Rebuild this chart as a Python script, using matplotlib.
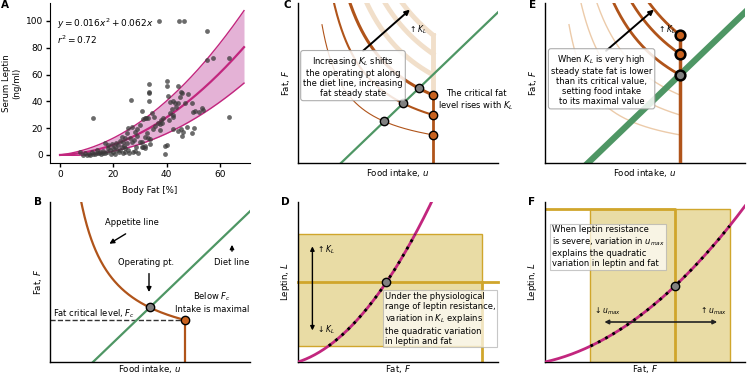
import numpy as np
import matplotlib.pyplot as plt
from matplotlib.patches import Rectangle

# ---- panel A: body fat vs serum leptin ----
fat_pct = [7.5, 8.75, 10, 11.25, 12.5, 13.75, 15, 16.25, 17.5, 18.75, 20, 21.25,
           16.9, 18.1, 19.4, 20.6, 21.9, 23.1, 24.4, 25.6, 27.5, 29.4, 30.9, 31.9,
           30, 22.5, 23.75, 25, 26.9, 27.9, 23.1, 24.4, 26.25, 25, 25.6, 27.1,
           28.75, 28.1, 31.9, 33.1, 30.6, 26.6, 12.5,
           9.5, 11, 12, 13, 14.5, 15.5, 17, 19, 20.5, 22, 23.5, 24.5, 26, 28,
           14, 16, 18, 20, 21, 22.5, 24,
           33.5, 33.5, 33.5, 33.5, 40.2, 40.2, 44.4, 45.2, 48.1, 34.4, 35.4, 31.2,
           32.2, 37.7, 38.7, 36.9, 37.5, 35.7, 34.8, 32.5, 31.9, 33.1, 30.6, 31.2,
           31.9, 33.75, 33.75, 39.4, 40.2, 39.4, 40.6, 41.2, 42.2, 43.1, 43.5,
           44.1, 45, 45.6, 46.9, 49.4, 50, 50.6, 52.25, 53.1, 53.75, 41.2, 41.9,
           42.5, 42.2, 40.9, 38.1, 37.5, 42.25, 44.4, 45.25, 46.25, 45.6, 47.5,
           50.25, 49.4, 63.5,
           37.3, 44.5, 46.4, 55.3, 55.3, 57.3, 63.3, 29, 30, 28.5]
leptin = [2.5, 0, 0, 0, 0.5, 1.2, 2.5, 1.2, 2.5, 3.7, 2.5, 3.7,
          8.7, 7.5, 8, 6.2, 7.5, 6.2, 5, 3.7, 2.5, 1.2, 6.2, 7,
          10, 10.5, 10, 8.7, 9.5, 11.2, 13.7, 12.4, 12.9, 16.2, 20.4, 21.1,
          19.4, 16.9, 27.4, 27.4, 33, 41, 27.4,
          1.5, 1, 2, 0.5, 1.5, 0.5, 1.5, 1, 1, 2, 1.5, 2.5, 1.5, 3,
          4, 3, 5, 5, 9, 4, 7,
          53, 47.2, 46, 40.3, 55.5, 51.5, 51.5, 47.3, 45.5, 31, 28.6, 26.6,
          27.3, 26.1, 27.4, 24.1, 23.1, 21.9, 19.2, 16.2, 13.2, 12.7, 9.9, 5.7,
          5, 11.7, 8.2, 6.7, 7.7, 0.5, 44, 39.8, 40.2, 39, 36,
          39, 43, 46, 39, 38.6, 32.3, 33, 32.3, 34.8, 33.5, 31, 34,
          29.8, 28, 26, 24, 18.6, 19.2, 18.2, 19.2, 17.4, 14.2, 21.1,
          20.4, 16.7, 28.1,
          100, 100, 100, 92.8, 70.5, 72, 72.7, 14, 22, 6]
fit_coef = [0.016, 0.062]        # y = a x^2 + b x
band_hi_coef = [0.019, 0.25]
band_lo_coef = [0.013, -0.12]
fit_xmax = 69

# ---- schematic panels (B, C, E) ----
u_max = 0.675
diet_slope, diet_u0 = 1.2, 0.215
appetite_k, appetite_c = 0.15, 0.04     # F = s * (k/u + c)
kl_low = [0.67, 1.145, 1.62]
kl_high = [2.1, 2.6, 3.05]
kl_low_lw = [0.8, 1.5, 2.2]

# ---- leptin vs fat panels (D, F) ----
lep_D = [1.636, 0.405]
lep_F = [0.697, 0.278]
D_box = [0.918, 0.10, 0.80]     # fat right edge, leptin low, leptin high
D_Lop = 0.5
F_box = [0.225, 0.925, 0.954]   # fat low, fat high, leptin top
F_Fop = 0.65

BROWN = "#b0541a"
ORANGE = "#c8621f"
GREEN = "#4e9664"
MAGENTA = "#c2267e"
PINK = "#e2aad2"
TAN = "#e9dca5"
GOLD = "#d0a62c"
BEIGE = "#f1dfca"

plt.rcParams["font.family"] = "DejaVu Sans"
plt.rcParams["mathtext.fontset"] = "dejavusans"
LAB = 6.2
TXT = 6.0

fig = plt.figure(figsize=(7.49, 3.75), dpi=100)
W, H = 749.0, 375.0


def add(px_left, px_bottom):
    return fig.add_axes([px_left / W, (H - px_bottom) / H, 200 / W, 160 / H])


def schematic(ax, xl, yl, xpad=3):
    ax.set_xlim(0, 1)
    ax.set_ylim(0, 1)
    for s in ["top", "right"]:
        ax.spines[s].set_visible(False)
    for s in ["left", "bottom"]:
        ax.spines[s].set_linewidth(1.0)
    ax.set_xticks([])
    ax.set_yticks([])
    ax.set_xlabel(xl, fontsize=LAB, labelpad=xpad)
    ax.set_ylabel(yl, fontsize=LAB, labelpad=4)


def appetite(u, s):
    return s * (appetite_k / u + appetite_c)


def diet(u):
    return diet_slope * (u - diet_u0)


def op_point(s):
    r = np.roots([diet_slope, -(diet_slope * diet_u0 + appetite_c * s), -appetite_k * s])
    u = r[r > 0].max()
    return u, diet(u)


box = dict(boxstyle="round,pad=0.3", facecolor="white", edgecolor="#a0a0a0", alpha=0.85, lw=0.8)

# ---------------- A ----------------
axA = add(50, 163)
xx = np.linspace(0, fit_xmax, 200)
yc = fit_coef[0] * xx**2 + fit_coef[1] * xx
yh = band_hi_coef[0] * xx**2 + band_hi_coef[1] * xx
yl = band_lo_coef[0] * xx**2 + band_lo_coef[1] * xx
axA.fill_between(xx, yl, yh, color=PINK, alpha=0.9, lw=0)
axA.plot(xx, yh, color=MAGENTA, lw=1.0)
axA.plot(xx, yl, color=MAGENTA, lw=1.0)
axA.plot(xx, yc, color=MAGENTA, lw=1.6)
axA.scatter(fat_pct, leptin, s=12, color="#3a3a3a", alpha=0.75, lw=0, zorder=3)
axA.set_xlim(-3.75, 71.25)
axA.set_ylim(-6, 113.4)
axA.set_xticks([0, 20, 40, 60])
axA.set_yticks([0, 20, 40, 60, 80, 100])
axA.tick_params(labelsize=6.5, length=3, width=1, pad=2)
for s in ["top", "right"]:
    axA.spines[s].set_visible(False)
axA.set_xlabel("Body Fat [%]", fontsize=LAB, labelpad=5)
axA.set_ylabel("Serum Leptin\n(ng/ml)", fontsize=LAB, labelpad=3)
axA.text(-1.2, 98, r"$y = 0.016x^2 + 0.062x$", fontsize=6.5, va="center")
axA.text(-1.2, 86, r"$r^2 = 0.72$", fontsize=6.5, va="center")

# ---------------- B ----------------
axB = add(50, 362)
schematic(axB, "Food intake, $u$", "Fat, $F$", xpad=1)
uu = np.linspace(0.12, u_max, 200)
Fc = appetite(u_max, 1.0)
axB.plot([0, u_max], [Fc, Fc], color="#333333", ls="--", lw=1.0)
g = np.linspace(diet_u0, 1.02, 10)
axB.plot(g, diet(g), color=GREEN, lw=1.6)
axB.plot(uu, appetite(uu, 1.0), color=BROWN, lw=1.6)
axB.plot([u_max, u_max], [0, Fc], color=BROWN, lw=1.6)
uo, fo = op_point(1.0)
axB.plot(uo, fo, "o", ms=6, mfc="#808080", mec="k", mew=1)
axB.plot(u_max, Fc, "o", ms=6, mfc=ORANGE, mec="k", mew=1)
axB.text(0.41, 0.87, "Appetite line", fontsize=TXT, ha="center", va="center")
axB.annotate("", xy=(0.285, 0.73), xytext=(0.39, 0.81),
             arrowprops=dict(arrowstyle="-|>", color="k", lw=1, mutation_scale=7))
axB.text(0.48, 0.62, "Operating pt.", fontsize=TXT, ha="center", va="center")
axB.annotate("", xy=(0.495, 0.42), xytext=(0.495, 0.57),
             arrowprops=dict(arrowstyle="-|>", color="k", lw=1, mutation_scale=7))
axB.text(0.91, 0.62, "Diet line", fontsize=TXT, ha="center", va="center")
axB.annotate("", xy=(0.91, 0.75), xytext=(0.91, 0.675),
             arrowprops=dict(arrowstyle="-|>", color="k", lw=1, mutation_scale=6))
axB.text(0.81, 0.375, "Below $F_c$\nIntake is maximal", fontsize=TXT, ha="center",
         va="center", linespacing=1.3)
axB.text(0.017, 0.30, "Fat critical level, $F_c$", fontsize=TXT, va="center")

# ---------------- C ----------------
axC = add(298, 163)
schematic(axC, "Food intake, $u$", "Fat, $F$")
axC.plot(g, diet(g), color=GREEN, lw=1.6, zorder=2)
for s in kl_high:
    axC.plot(uu, appetite(uu, s), color=BEIGE, lw=3.5, zorder=1)
axC.plot([u_max, u_max], [appetite(u_max, kl_low[-1]), appetite(u_max, kl_high[-1])],
         color=BEIGE, lw=3.5, zorder=1)
for s, lw in zip(kl_low, kl_low_lw):
    axC.plot(uu, appetite(uu, s), color=BROWN, lw=lw, zorder=2)
axC.plot([u_max, u_max], [0, appetite(u_max, kl_low[-1])], color=BROWN, lw=2, zorder=2)
for s in kl_low:
    uo, fo = op_point(s)
    axC.plot(uo, fo, "o", ms=6, mfc="#808080", mec="k", mew=1, zorder=4)
    axC.plot(u_max, appetite(u_max, s), "o", ms=6, mfc=ORANGE, mec="k", mew=1, zorder=4)
axC.annotate("", xy=(0.57, 0.97), xytext=(0.315, 0.69),
             arrowprops=dict(arrowstyle="-|>", color="k", lw=1.4, mutation_scale=7), zorder=5)
axC.text(0.60, 0.835, r"$\uparrow K_L$", fontsize=5.5, ha="center", va="center")
axC.text(0.275, 0.54, "Increasing $K_L$ shifts\nthe operating pt along\nthe diet line, increasing\nfat steady state",
         fontsize=TXT, ha="center", va="center", bbox=box, zorder=6, linespacing=1.15)
axC.text(0.89, 0.39, "The critical fat\nlevel rises with $K_L$", fontsize=TXT, ha="center",
         va="center", clip_on=False, linespacing=1.2)

# ---------------- D ----------------
axD = add(298, 362)
schematic(axD, "Fat, $F$", "Leptin, $L$", xpad=1)
axD.add_patch(Rectangle((0, D_box[1]), D_box[0], D_box[2] - D_box[1], facecolor=TAN,
                        edgecolor=GOLD, lw=1.0, zorder=1))
axD.plot([0, 1.0], [D_Lop, D_Lop], color=GOLD, lw=2, zorder=2, clip_on=False)
axD.plot([D_box[0], D_box[0]], [0, D_Lop], color=GOLD, lw=2, zorder=2)
ff = np.linspace(0, 1, 300)
LD = lep_D[0] * ff**2 + lep_D[1] * ff
axD.plot(ff, LD, color=MAGENTA, lw=2, zorder=3)
m = (LD >= D_box[1]) & (LD <= D_box[2])
axD.plot(ff[m], LD[m], color="k", lw=2, ls=(0, (1, 2)), zorder=4)
fD = ff[np.argmin(abs(LD - D_Lop))]
axD.plot(fD, D_Lop, "o", ms=6, mfc="#808080", mec="k", mew=1, zorder=5)
axD.annotate("", xy=(0.072, 0.74), xytext=(0.072, 0.18),
             arrowprops=dict(arrowstyle="<|-|>", color="k", lw=1, mutation_scale=6))
axD.text(0.09, 0.70, r"$\uparrow K_L$", fontsize=5.5, va="center")
axD.text(0.09, 0.20, r"$\downarrow K_L$", fontsize=5.5, va="center")
axD.text(0.435, 0.27, "Under the physiological\nrange of leptin resistance,\nvariation in $K_L$ explains\nthe quadratic variation\nin leptin and fat",
         fontsize=TXT, ha="left", va="center", linespacing=1.15, clip_on=False, zorder=6,
         bbox=dict(boxstyle="square,pad=0.2", facecolor="white", edgecolor="#b0b0b0", alpha=0.7, lw=0.8))

# ---------------- E ----------------
axE = add(545, 163)
schematic(axE, "Food intake, $u$", "Fat, $F$")
for s in kl_low:
    axE.plot(uu, appetite(uu, s), color="#eccbaa", lw=1.0, zorder=1)
axE.plot(g, diet(g), color=GREEN, lw=4.5, zorder=2)
for s in kl_high:
    axE.plot(uu, appetite(uu, s), color=BROWN, lw=2, zorder=3)
axE.plot([u_max, u_max], [0, appetite(u_max, kl_high[-1])], color=BROWN, lw=2.5, zorder=3)
axE.plot(u_max, diet(u_max), "o", ms=7, mfc="#808080", mec="k", mew=1.8, zorder=4)
for s in kl_high[1:]:
    axE.plot(u_max, appetite(u_max, s), "o", ms=7, mfc=ORANGE, mec="k", mew=1.8, zorder=4)
axE.annotate("", xy=(0.555, 0.97), xytext=(0.295, 0.69),
             arrowprops=dict(arrowstyle="-|>", color="k", lw=1.4, mutation_scale=7), zorder=5)
axE.text(0.61, 0.835, r"$\uparrow K_L$", fontsize=5.5, ha="center", va="center")
axE.text(0.283, 0.52, "When $K_L$ is very high\nsteady state fat is lower\nthan its critical value,\nsetting food intake\nto its maximal value",
         fontsize=TXT, ha="center", va="center", bbox=box, zorder=6, linespacing=1.15)

# ---------------- F ----------------
axF = add(545, 362)
schematic(axF, "Fat, $F$", "Leptin, $L$", xpad=1)
axF.add_patch(Rectangle((F_box[0], 0), F_box[1] - F_box[0], F_box[2], facecolor=TAN,
                        edgecolor=GOLD, lw=1.0, zorder=1))
axF.plot([0, F_Fop, F_Fop], [F_box[2], F_box[2], 0], color=GOLD, lw=2, zorder=2)
LF = lep_F[0] * ff**2 + lep_F[1] * ff
axF.plot(ff, LF, color=MAGENTA, lw=2, zorder=3)
m = (ff >= F_box[0]) & (ff <= F_box[1])
axF.plot(ff[m], LF[m], color="k", lw=2, ls=(0, (1, 2)), zorder=4)
axF.plot(F_Fop, lep_F[0] * F_Fop**2 + lep_F[1] * F_Fop, "o", ms=6, mfc="#808080", mec="k",
         mew=1, zorder=5)
axF.annotate("", xy=(0.875, 0.25), xytext=(0.283, 0.25),
             arrowprops=dict(arrowstyle="<|-|>", color="#222222", lw=1.2, mutation_scale=6))
axF.text(0.31, 0.32, r"$\downarrow u_{max}$", fontsize=5.5, ha="center", va="center")
axF.text(0.84, 0.32, r"$\uparrow u_{max}$", fontsize=5.5, ha="center", va="center")
axF.text(0.033, 0.72, "When leptin resistance\nis severe, variation in $u_{max}$\nexplains the quadratic\nvariation in leptin and fat",
         fontsize=TXT, ha="left", va="center", linespacing=1.15, zorder=6,
         bbox=dict(boxstyle="square,pad=0.2", facecolor="white", edgecolor="#b0b0b0", alpha=0.7, lw=0.8))

# panel letters
for lab, px, py in [("A", 5, 5), ("B", 38, 202), ("C", 287, 5), ("D", 285, 202),
                    ("E", 533, 5), ("F", 532, 202)]:
    fig.text(px / W, 1 - py / H, lab, fontsize=7.5, fontweight="bold", va="center", ha="center")

fig.savefig("out.png", dpi=100)
